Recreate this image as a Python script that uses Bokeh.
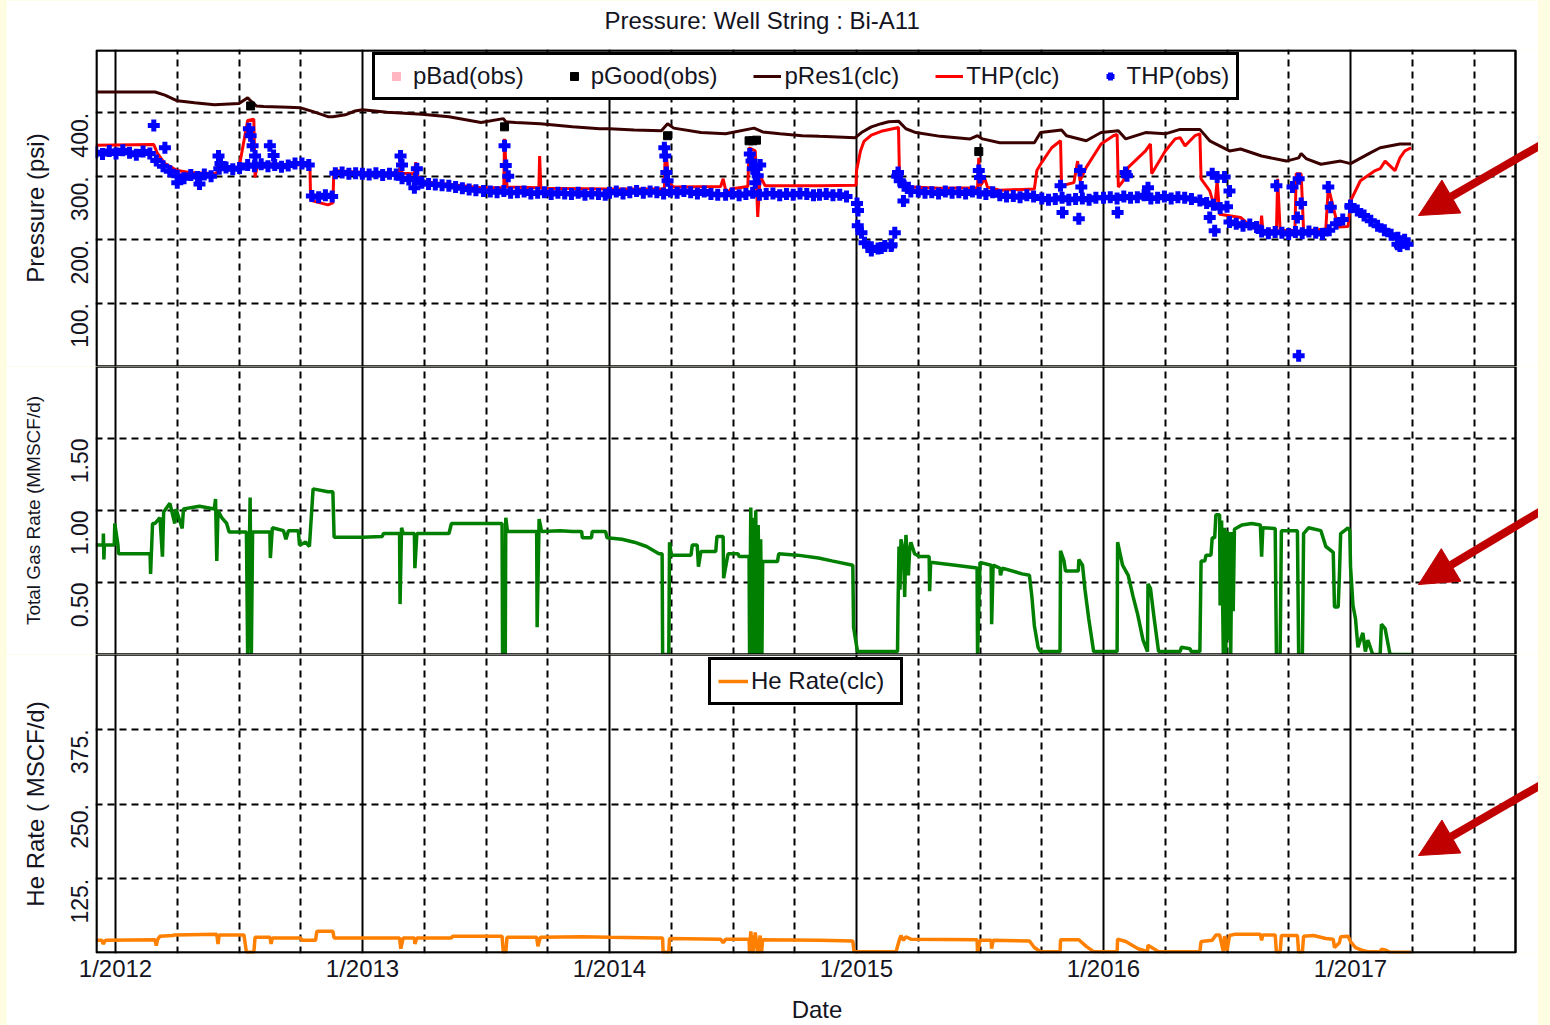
import numpy as np
from bokeh.plotting import figure
from bokeh.layouts import column
from bokeh.models import (FixedTicker, Grid, Legend, LegendItem, Range1d, Arrow,
                          NormalHead, BoxAnnotation, Title)
from bokeh.embed import file_html
from bokeh.resources import INLINE

# ---------------------------------------------------------------- data
# time is in decimal years
year_ticks = [2012, 2013, 2014, 2015, 2016, 2017]
year_labels = ["1/2012", "1/2013", "1/2014", "1/2015", "1/2016", "1/2017"]

pressure_ticks = [100, 200, 300, 400]
pressure_tick_labels = ["100.", "200.", "300.", "400."]
gas_ticks = [0.5, 1.0, 1.5]
gas_tick_labels = ["0.50", "1.00", "1.50"]
he_ticks = [125, 250, 375]
he_tick_labels = ["125.", "250.", "375."]

# reservoir pressure pRes1(clc), psi
pres1 = [(2011.92, 433), (2012.16, 433), (2012.20, 428), (2012.25, 419), (2012.32, 416),
         (2012.40, 413), (2012.50, 415), (2012.535, 424), (2012.55, 418), (2012.57, 411),
         (2012.60, 410), (2012.70, 409), (2012.75, 408), (2012.80, 402), (2012.86, 394),
         (2012.88, 394), (2012.93, 397), (2012.97, 403), (2013.00, 405), (2013.10, 401),
         (2013.24, 398), (2013.35, 394), (2013.48, 385), (2013.57, 391), (2013.58, 386),
         (2013.62, 385), (2013.72, 383), (2013.85, 378), (2013.96, 375), (2014.00, 375),
         (2014.10, 373), (2014.21, 372), (2014.235, 383), (2014.26, 376), (2014.37, 369),
         (2014.47, 367), (2014.585, 376), (2014.62, 370), (2014.69, 367), (2014.78, 364),
         (2014.85, 363), (2014.995, 361), (2015.02, 369), (2015.06, 378), (2015.10, 383),
         (2015.13, 386), (2015.17, 387), (2015.20, 375), (2015.24, 369), (2015.34, 363),
         (2015.46, 359), (2015.49, 364), (2015.51, 359), (2015.58, 353), (2015.72, 353),
         (2015.745, 369), (2015.83, 373), (2015.85, 364), (2015.93, 356), (2015.99, 369),
         (2016.06, 372), (2016.09, 359), (2016.17, 369), (2016.25, 367), (2016.31, 374),
         (2016.39, 374), (2016.43, 356), (2016.51, 340), (2016.555, 343), (2016.64, 332),
         (2016.74, 324), (2016.79, 329), (2016.80, 336), (2016.82, 328), (2016.88, 319),
         (2016.96, 324), (2017.00, 320), (2017.08, 337), (2017.12, 345), (2017.20, 351),
         (2017.245, 351)]

# calculated tubing head pressure THP(clc), psi
thp_clc = [(2011.92, 349), (2012.155, 350), (2012.17, 336), (2012.20, 320), (2012.25, 309),
           (2012.30, 306), (2012.41, 304), (2012.415, 334), (2012.42, 313), (2012.50, 313),
           (2012.535, 388), (2012.56, 390), (2012.565, 298), (2012.575, 320), (2012.75, 318),
           (2012.787, 318), (2012.79, 262), (2012.86, 255), (2012.88, 258), (2012.884, 309),
           (2013.00, 306), (2013.15, 305), (2013.154, 340), (2013.16, 305), (2013.21, 304),
           (2013.215, 322), (2013.225, 297), (2013.24, 292), (2013.48, 282), (2013.572, 282),
           (2013.575, 359), (2013.585, 283), (2013.714, 282), (2013.717, 332), (2013.722, 281),
           (2014.00, 280), (2014.222, 280), (2014.226, 351), (2014.24, 290), (2014.26, 283),
           (2014.45, 284), (2014.46, 296), (2014.475, 270), (2014.49, 280), (2014.56, 284),
           (2014.565, 345), (2014.59, 340), (2014.60, 236), (2014.61, 300), (2014.63, 285),
           (2014.85, 285), (2014.998, 286), (2015.00, 309), (2015.016, 340), (2015.03, 355),
           (2015.06, 365), (2015.10, 371), (2015.17, 377), (2015.174, 298), (2015.19, 290),
           (2015.22, 283), (2015.34, 281), (2015.49, 282), (2015.495, 329), (2015.50, 285),
           (2015.52, 296), (2015.53, 283), (2015.58, 278), (2015.72, 280), (2015.73, 309),
           (2015.75, 322), (2015.79, 345), (2015.826, 356), (2015.83, 285), (2015.88, 290),
           (2015.895, 324), (2015.905, 293), (2015.93, 314), (2015.99, 351), (2016.04, 364),
           (2016.055, 366), (2016.06, 283), (2016.08, 293), (2016.10, 314), (2016.17, 340),
           (2016.19, 351), (2016.195, 304), (2016.25, 340), (2016.29, 359), (2016.31, 361),
           (2016.33, 348), (2016.37, 364), (2016.39, 367), (2016.395, 296), (2016.43, 277),
           (2016.45, 251), (2016.46, 293), (2016.47, 240), (2016.555, 235), (2016.60, 220),
           (2016.635, 214), (2016.64, 238), (2016.645, 214), (2016.70, 214), (2016.705, 296),
           (2016.715, 214), (2016.775, 215), (2016.78, 304), (2016.80, 304), (2016.81, 214),
           (2016.90, 217), (2016.91, 283), (2016.95, 220), (2016.99, 221), (2017.00, 261),
           (2017.04, 293), (2017.10, 309), (2017.12, 312), (2017.14, 324), (2017.18, 309),
           (2017.20, 329), (2017.22, 340), (2017.245, 345)]

# observed THP(obs): readings every 10 days, grouped in runs (run start, readings)
OBS_STEP = 10 / 365.25
thp_obs_runs = [
    (2011.920, [338, 335, 340, 336, 341, 337, 334, 339, 336]),
    (2012.165, [325, 316, 308]),
    (2012.250, [301, 297, 302, 299, 303, 300]),
    (2012.420, [312, 314, 311, 313]),
    (2012.535, [318, 316, 319, 316, 318, 315, 317, 320]),
    (2012.755, [320, 318]),
    (2012.795, [269, 267, 270, 268]),
    (2012.890, [305, 306, 304, 305, 304, 303, 305, 302, 304, 303]),
    (2013.160, [297, 295, 296]),
    (2013.240, [290, 288, 287, 286, 285, 283, 281, 279, 278]),
    (2013.490, [277, 276, 275, 277, 274, 275, 276, 273, 274, 275, 272, 274, 273, 272,
                274, 271, 273, 272, 271]),
    (2014.000, [274, 276, 273, 275, 277, 274, 276, 275, 273, 276, 274, 277, 275, 273,
                276, 272, 271]),
    (2014.470, [271, 273, 270, 272, 274, 271, 272, 273, 270, 272, 271, 273, 272, 270]),
    (2014.850, [271, 272, 270, 271, 268]),
    (2015.005, [222, 195, 188, 186, 190, 192]),
    (2015.165, [300, 285, 276]),
    (2015.250, [276, 274, 275, 273, 276, 274, 275, 273, 276, 274, 272, 275]),
    (2015.580, [270, 268, 269, 267, 270, 268]),
    (2015.750, [265, 263, 264, 266, 263, 264, 265, 263, 266]),
    (2016.000, [266, 267, 265, 268, 266, 267, 270, 265, 266, 268, 265, 267, 266, 264]),
    (2016.390, [262, 258, 255, 250]),
    (2016.510, [228, 225, 222, 224, 220]),
    (2016.640, [213, 210, 212, 211, 209, 212, 210, 213, 211, 209, 215, 225, 232]),
    (2017.000, [251, 246, 238, 230, 222, 215, 208, 203, 200]),
]
# isolated THP(obs) readings (spikes and outliers)
thp_obs_extra = [(2012.155, 380), (2012.20, 345), (2012.25, 290), (2012.34, 288),
                 (2012.417, 332), (2012.425, 320), (2012.54, 375), (2012.547, 364),
                 (2012.555, 348), (2012.565, 332), (2012.625, 348), (2012.64, 333),
                 (2013.154, 332), (2013.16, 318), (2013.21, 282), (2013.22, 312),
                 (2013.575, 348), (2013.58, 317), (2013.59, 300), (2014.222, 345),
                 (2014.226, 332), (2014.23, 306), (2014.235, 293), (2014.568, 335),
                 (2014.575, 324), (2014.58, 312), (2014.59, 290), (2014.60, 301),
                 (2014.61, 318), (2015.002, 257), (2015.006, 246), (2015.02, 211),
                 (2015.06, 183), (2015.10, 187), (2015.14, 190), (2015.155, 211),
                 (2015.168, 306), (2015.175, 293), (2015.19, 261), (2015.21, 282),
                 (2015.495, 309), (2015.50, 298), (2015.826, 285), (2015.834, 243),
                 (2015.90, 233), (2015.905, 309), (2015.91, 283), (2016.057, 243),
                 (2016.089, 306), (2016.095, 301), (2016.18, 282), (2016.44, 304),
                 (2016.46, 299), (2016.43, 235), (2016.45, 214), (2016.49, 299),
                 (2016.50, 252), (2016.51, 277), (2016.70, 285), (2016.765, 283),
                 (2016.79, 296), (2016.80, 257), (2016.785, 235), (2016.79, 17),
                 (2016.91, 283), (2016.92, 251), (2017.00, 254), (2017.19, 193),
                 (2017.20, 190), (2017.21, 195), (2017.23, 193)]

# accepted gauge pressures pGood(obs), psi
p_good = [(2012.547, 411), (2013.575, 378), (2014.235, 364), (2014.565, 356),
          (2014.58, 356), (2014.595, 357), (2015.495, 339)]
# rejected gauge pressures pBad(obs): none in this period
p_bad = []

# total gas rate, MMSCF/d
gas_rate = [(2011.92, 0.76), (2011.95, 0.76), (2011.951, 0.84), (2011.953, 0.66),
            (2011.955, 0.76), (2011.995, 0.76), (2011.997, 0.91), (2012.01, 0.76),
            (2012.012, 0.70), (2012.14, 0.70), (2012.142, 0.56), (2012.15, 0.91),
            (2012.16, 0.91), (2012.18, 0.95), (2012.19, 0.68), (2012.195, 0.99),
            (2012.22, 1.05), (2012.24, 0.91), (2012.245, 1.01), (2012.27, 0.875),
            (2012.275, 1.01), (2012.34, 1.03), (2012.40, 1.01), (2012.405, 1.08),
            (2012.41, 0.65), (2012.415, 1.00), (2012.43, 0.95), (2012.45, 0.91),
            (2012.46, 0.85), (2012.53, 0.85), (2012.535, 0.0), (2012.545, 1.09),
            (2012.55, 0.0), (2012.555, 0.85), (2012.625, 0.85), (2012.627, 0.67),
            (2012.635, 0.88), (2012.68, 0.86), (2012.69, 0.80), (2012.70, 0.86),
            (2012.74, 0.86), (2012.745, 0.76), (2012.77, 0.78), (2012.785, 0.75),
            (2012.80, 1.15), (2012.86, 1.13), (2012.88, 1.13), (2012.885, 0.815),
            (2013.00, 0.815), (2013.08, 0.82), (2013.085, 0.84), (2013.15, 0.84),
            (2013.152, 0.35), (2013.158, 0.88), (2013.165, 0.84), (2013.21, 0.84),
            (2013.212, 0.60), (2013.22, 0.84), (2013.35, 0.84), (2013.36, 0.91),
            (2013.565, 0.91), (2013.567, 0.0), (2013.578, 0.0), (2013.58, 0.95),
            (2013.587, 0.855), (2013.705, 0.855), (2013.707, 0.19), (2013.715, 0.94),
            (2013.725, 0.855), (2013.80, 0.86), (2013.85, 0.855), (2013.887, 0.855),
            (2013.89, 0.81), (2013.927, 0.81), (2013.93, 0.855), (2013.984, 0.855),
            (2013.99, 0.81), (2014.05, 0.80), (2014.10, 0.78), (2014.15, 0.75),
            (2014.20, 0.70), (2014.213, 0.70), (2014.215, 0.0), (2014.24, 0.0),
            (2014.243, 0.78), (2014.25, 0.69), (2014.33, 0.69), (2014.335, 0.76),
            (2014.355, 0.76), (2014.36, 0.61), (2014.37, 0.715), (2014.43, 0.715),
            (2014.435, 0.82), (2014.46, 0.82), (2014.462, 0.53), (2014.48, 0.70),
            (2014.52, 0.70), (2014.525, 0.68), (2014.565, 0.68), (2014.567, 0.0),
            (2014.572, 1.02), (2014.577, 0.0), (2014.582, 0.95), (2014.587, 0.0),
            (2014.592, 1.00), (2014.597, 0.0), (2014.602, 0.90), (2014.607, 0.0),
            (2014.612, 0.80), (2014.617, 0.0), (2014.62, 0.645), (2014.68, 0.645),
            (2014.685, 0.70), (2014.76, 0.69), (2014.846, 0.67), (2014.90, 0.65),
            (2014.985, 0.62), (2014.988, 0.19), (2015.004, 0.02), (2015.166, 0.02),
            (2015.168, 0.32), (2015.172, 0.75), (2015.176, 0.45), (2015.18, 0.80),
            (2015.19, 0.72), (2015.195, 0.40), (2015.20, 0.83), (2015.21, 0.55),
            (2015.215, 0.72), (2015.22, 0.78), (2015.235, 0.70), (2015.255, 0.68),
            (2015.294, 0.68), (2015.296, 0.44), (2015.30, 0.64), (2015.40, 0.62),
            (2015.488, 0.60), (2015.49, 0.0), (2015.50, 0.64), (2015.545, 0.62),
            (2015.547, 0.21), (2015.553, 0.62), (2015.58, 0.60), (2015.583, 0.55),
            (2015.59, 0.60), (2015.67, 0.56), (2015.70, 0.55), (2015.71, 0.40),
            (2015.72, 0.20), (2015.735, 0.05), (2015.745, 0.02), (2015.824, 0.02),
            (2015.826, 0.72), (2015.84, 0.65), (2015.846, 0.58), (2015.898, 0.58),
            (2015.90, 0.66), (2015.915, 0.62), (2015.925, 0.45), (2015.94, 0.25),
            (2015.96, 0.02), (2016.055, 0.02), (2016.057, 0.78), (2016.067, 0.70),
            (2016.077, 0.62), (2016.10, 0.55), (2016.12, 0.40), (2016.138, 0.28),
            (2016.16, 0.10), (2016.178, 0.02), (2016.18, 0.49), (2016.19, 0.46),
            (2016.205, 0.25), (2016.223, 0.02), (2016.31, 0.02), (2016.315, 0.05),
            (2016.35, 0.04), (2016.355, 0.02), (2016.39, 0.02), (2016.395, 0.65),
            (2016.41, 0.65), (2016.415, 0.69), (2016.435, 0.69), (2016.44, 0.81),
            (2016.45, 0.81), (2016.455, 0.97), (2016.47, 0.97), (2016.472, 0.34),
            (2016.478, 0.93), (2016.485, 0.0), (2016.49, 0.88), (2016.495, 0.0),
            (2016.50, 0.86), (2016.505, 0.10), (2016.51, 0.85), (2016.515, 0.0),
            (2016.52, 0.85), (2016.525, 0.30), (2016.53, 0.87), (2016.56, 0.90),
            (2016.60, 0.91), (2016.635, 0.90), (2016.64, 0.68), (2016.645, 0.88),
            (2016.695, 0.875), (2016.70, 0.0), (2016.715, 0.0), (2016.72, 0.86),
            (2016.785, 0.86), (2016.79, 0.0), (2016.805, 0.0), (2016.81, 0.84),
            (2016.83, 0.88), (2016.88, 0.86), (2016.90, 0.75), (2016.93, 0.71),
            (2016.935, 0.33), (2016.95, 0.33), (2016.955, 0.55), (2016.96, 0.84),
            (2016.99, 0.88), (2016.997, 0.86), (2017.00, 0.61), (2017.01, 0.34),
            (2017.02, 0.25), (2017.03, 0.05), (2017.05, 0.15), (2017.06, 0.02),
            (2017.07, 0.10), (2017.09, 0.0), (2017.12, 0.0), (2017.125, 0.21),
            (2017.14, 0.18), (2017.16, 0.0), (2017.245, 0.0)]

# calculated helium rate, MSCF/d
he_rate = [(2011.92, 22), (2011.945, 22), (2011.95, 16), (2011.96, 22), (2012.16, 23),
           (2012.165, 13), (2012.17, 23), (2012.18, 29), (2012.23, 30), (2012.24, 31),
           (2012.41, 32), (2012.415, 16), (2012.42, 31), (2012.52, 31), (2012.53, 2),
           (2012.56, 2), (2012.565, 27), (2012.625, 27), (2012.63, 16), (2012.635, 26),
           (2012.75, 26), (2012.755, 22), (2012.81, 22), (2012.815, 37), (2012.88, 37),
           (2012.885, 26), (2013.15, 26), (2013.155, 8), (2013.165, 26), (2013.21, 26),
           (2013.212, 16), (2013.22, 26), (2013.36, 26), (2013.365, 29), (2013.565, 29),
           (2013.57, 2), (2013.58, 2), (2013.585, 27), (2013.705, 27), (2013.71, 12),
           (2013.72, 27), (2013.89, 28), (2014.00, 27), (2014.20, 26), (2014.215, 26),
           (2014.217, 2), (2014.24, 2), (2014.243, 25), (2014.45, 24), (2014.46, 18),
           (2014.47, 24), (2014.565, 24), (2014.567, 0), (2014.572, 37), (2014.58, 0),
           (2014.59, 35), (2014.60, 0), (2014.61, 30), (2014.615, 0), (2014.62, 23),
           (2014.85, 22), (2014.985, 21), (2014.99, 3), (2015.16, 3), (2015.175, 25),
           (2015.18, 30), (2015.19, 22), (2015.20, 28), (2015.22, 24), (2015.488, 23),
           (2015.49, 2), (2015.50, 22), (2015.545, 22), (2015.547, 8), (2015.553, 22),
           (2015.70, 21), (2015.72, 10), (2015.745, 3), (2015.824, 3), (2015.826, 23),
           (2015.90, 23), (2015.93, 12), (2015.96, 3), (2016.055, 3), (2016.057, 24),
           (2016.09, 20), (2016.14, 8), (2016.178, 3), (2016.18, 14), (2016.223, 3),
           (2016.39, 3), (2016.395, 20), (2016.44, 22), (2016.455, 31), (2016.47, 31),
           (2016.485, 3), (2016.49, 29), (2016.50, 5), (2016.51, 30), (2016.53, 32),
           (2016.635, 32), (2016.64, 22), (2016.645, 31), (2016.695, 31), (2016.70, 2),
           (2016.715, 2), (2016.72, 30), (2016.785, 30), (2016.79, 2), (2016.805, 2),
           (2016.81, 29), (2016.85, 30), (2016.90, 25), (2016.93, 24), (2016.935, 10),
           (2016.955, 18), (2016.96, 28), (2016.99, 29), (2017.00, 20), (2017.02, 10),
           (2017.05, 5), (2017.07, 3), (2017.12, 3), (2017.125, 7), (2017.14, 6),
           (2017.16, 2), (2017.245, 2)]

# ---------------------------------------------------------------- styling
FONT = "Liberation Sans"
INK = "#14141f"
ARROW_RED = "#c00000"
SIDE_YELLOW = "#fefde2"
PAGE_W = 1550
SIDE = 6                 # pale strip on the left of the page
FIG_W = 1532             # canvas spans page x 6 .. 1538
FRAME_L = 89             # frame starts at page x 95
BOX_R = 1509             # visible plot box ends at page x 1515

X_START, X_BOX_END = 2011.919, 2017.668   # time span inside the plot box
# the frame runs on to the canvas edge; grid lines stop at the plot box
x_range = Range1d(X_START, 2017.761)
quarter_ticks = [y + q for y in range(2011, 2018) for q in (0.25, 0.5, 0.75)
                 if X_START < y + q < X_BOX_END]


def unzip(pairs):
    return [p[0] for p in pairs], [p[1] for p in pairs]


def make_panel(height, frame_top, frame_bottom, y_end, ticks, labels, axis_label,
               label_size, label_standoff=11, with_x_axis=False, title=None):
    p = figure(width=FIG_W, height=height, x_range=x_range, y_range=Range1d(0, y_end),
               output_backend="svg", toolbar_location=None, title=title,
               x_axis_location="below" if with_x_axis else None,
               min_border_left=FRAME_L, min_border_right=0,
               min_border_top=frame_top, min_border_bottom=height - frame_bottom,
               margin=(0, 0, 0, SIDE))
    p.background_fill_color = "white"
    p.border_fill_color = "white"
    p.outline_line_color = None

    ax = p.yaxis[0]
    ax.ticker = FixedTicker(ticks=ticks)
    ax.major_label_overrides = dict(zip(ticks, labels))
    ax.major_label_orientation = np.pi / 2
    ax.major_label_text_font = FONT
    ax.major_label_text_font_size = "23px"
    ax.major_label_text_color = INK
    ax.major_label_standoff = 10
    ax.axis_line_color = None
    ax.major_tick_line_color = None
    ax.minor_tick_line_color = None
    ax.axis_label = axis_label
    ax.axis_label_text_font = FONT
    ax.axis_label_text_font_style = "normal"
    ax.axis_label_text_font_size = label_size
    ax.axis_label_text_color = INK
    ax.axis_label_standoff = label_standoff

    p.ygrid.grid_line_color = "black"
    p.ygrid.grid_line_dash = "7 5"
    p.ygrid.grid_line_width = 2
    p.ygrid.cross_bounds = (X_START, X_BOX_END)
    p.xgrid.visible = False

    p.add_layout(Grid(dimension=0, ticker=FixedTicker(ticks=quarter_ticks),
                      grid_line_color="black", grid_line_dash="7 5", grid_line_width=2))
    p.add_layout(Grid(dimension=0, ticker=FixedTicker(ticks=year_ticks),
                      grid_line_color="black", grid_line_width=2))

    if with_x_axis:
        xa = p.xaxis[0]
        xa.ticker = FixedTicker(ticks=year_ticks)
        xa.major_label_overrides = dict(zip(year_ticks, year_labels))
        xa.major_label_text_font = FONT
        xa.major_label_text_font_size = "24px"
        xa.major_label_text_color = INK
        xa.major_label_standoff = -5
        xa.axis_line_color = None
        xa.major_tick_line_color = None
        xa.minor_tick_line_color = None
        xa.axis_label = "Date"
        xa.axis_label_text_font = FONT
        xa.axis_label_text_font_style = "normal"
        xa.axis_label_text_font_size = "24px"
        xa.axis_label_text_color = INK
        xa.axis_label_standoff = 11
    return p


def add_box(p, top, bottom):
    p.add_layout(BoxAnnotation(left=FRAME_L + 1, right=BOX_R, top=top, bottom=bottom,
                               left_units="canvas", right_units="canvas",
                               top_units="canvas", bottom_units="canvas",
                               fill_alpha=0, line_color="black", line_alpha=1,
                               line_width=2.5))


def add_arrow(p, x0, y0, x1, y1):
    p.add_layout(Arrow(x_start=x0 - SIDE, y_start=y0, x_end=x1 - SIDE, y_end=y1,
                       start_units="canvas", end_units="canvas",
                       line_color=ARROW_RED, line_width=8,
                       end=NormalHead(size=38, fill_color=ARROW_RED,
                                      line_color=ARROW_RED, line_width=1)))


def make_legend(items, loc, glyph_width=28, label_width=20):
    return Legend(items=items, location=loc, orientation="horizontal",
                  padding=7, spacing=36, glyph_width=glyph_width, glyph_height=20,
                  label_width=label_width, label_standoff=3,
                  label_text_font=FONT, label_text_font_size="24px",
                  label_text_color=INK, border_line_color="black",
                  border_line_alpha=1, border_line_width=3.5,
                  background_fill_color="white", background_fill_alpha=1)


# ---------------------------------------------------------------- pressure
title = Title(text="Pressure: Well String : Bi-A11", text_font=FONT,
              text_font_size="24px", text_font_style="normal", text_color=INK,
              align="left", offset=509, standoff=0)
p1 = make_panel(366, 49, 366, 500, pressure_ticks, pressure_tick_labels,
                "Pressure (psi)", "24px", title=title)
# blank line between the title and the plot box
p1.add_layout(Title(text=" ", text_font_size="12px", standoff=0), "above")

x, y = unzip(thp_clc)
r_thp_clc = p1.line(x, y, line_color="#ff0000", line_width=3)
x, y = unzip(pres1)
r_pres = p1.line(x, y, line_color="#3a0000", line_width=3)

obs_t, obs_v = [], []
for start, vals in thp_obs_runs:
    for i, v in enumerate(vals):
        obs_t.append(start + i * OBS_STEP)
        obs_v.append(v)
ex, ey = unzip(thp_obs_extra)
r_thp_obs = p1.scatter(obs_t + ex, obs_v + ey, marker="cross", size=12, line_width=5,
                       line_color="#0000ff")
x, y = unzip(p_good)
r_good = p1.scatter(x, y, marker="square", size=8, fill_color="black", line_color="black")
x, y = unzip(p_bad) if p_bad else ([np.nan], [np.nan])
r_bad = p1.scatter(x, y, marker="square", size=8, fill_color="#ffb6c1",
                   line_color="#ffb6c1")
add_box(p1, 50, 366)

leg1 = make_legend([LegendItem(label="pBad(obs)", renderers=[r_bad]),
                    LegendItem(label="pGood(obs)", renderers=[r_good]),
                    LegendItem(label="pRes1(clc)", renderers=[r_pres]),
                    LegendItem(label="THP(clc)", renderers=[r_thp_clc]),
                    LegendItem(label="THP(obs)", renderers=[r_thp_obs])],
                   (277, 266))
p1.add_layout(leg1)
add_arrow(p1, 1548, 140, 1418, 215)

# ---------------------------------------------------------------- gas rate
p2 = make_panel(288, 0, 288, 2.0, gas_ticks, gas_tick_labels,
                "Total Gas Rate (MMSCF/d)", "19px", label_standoff=16)
x, y = unzip(gas_rate)
p2.line(x, y, line_color="#007f00", line_width=3.5)
add_box(p2, 0, 288)
add_arrow(p2, 1548, 140, 1418, 218)

# ---------------------------------------------------------------- helium rate
p3 = make_panel(371, 0, 299, 500, he_ticks, he_tick_labels, "He Rate ( MSCF/d)", "24px",
                with_x_axis=True)
x, y = unzip(he_rate)
r_he = p3.line(x, y, line_color="#ff8000", line_width=3.5)
add_box(p3, 0, 298)
leg3 = make_legend([LegendItem(label="He Rate(clc)", renderers=[r_he])], (613, 248),
                   glyph_width=30, label_width=142)
p3.add_layout(leg3)
add_arrow(p3, 1548, 126, 1418, 201)

layout = column(p1, p2, p3, spacing=0, width=PAGE_W,
                styles={"background-color": SIDE_YELLOW})
open("out.html", "w").write(file_html(layout, INLINE))
